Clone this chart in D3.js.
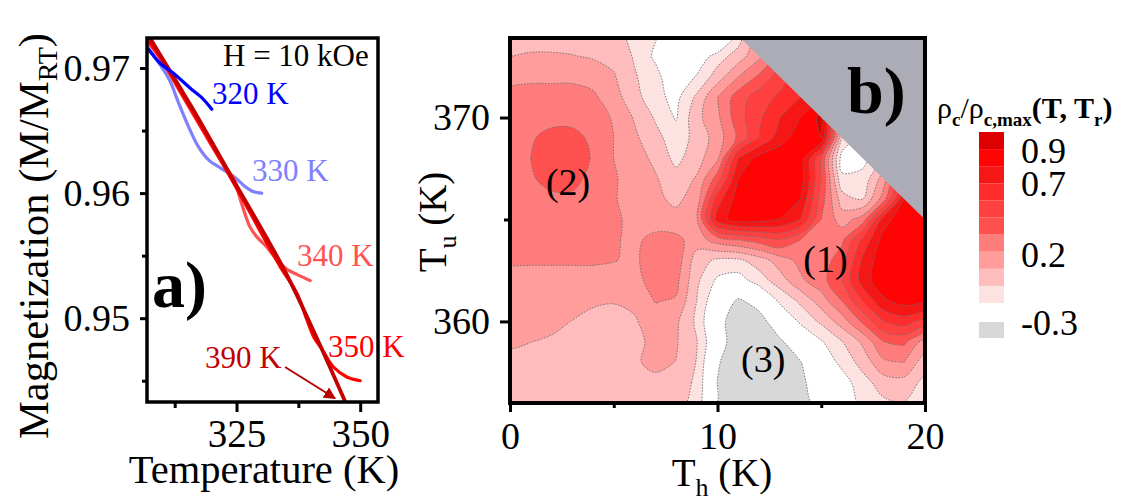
<!DOCTYPE html>
<html>
<head>
<meta charset="utf-8">
<script src="https://cdn.jsdelivr.net/npm/d3@7"></script>
</head>
<body style="margin:0; background:#fff">
<div id="chart"></div>
<script>
// ---------- panel a: M/M_RT vs temperature ----------
const curveNames = ["330 K", "340 K", "350 K", "390 K", "320 K"];
const curveColors = ["#8080ff", "#ff5252", "#ff0000", "#c40000", "#0000ff"];
const t320 = [306.9, 309.5, 312.2, 315.6, 318.3, 320.0];
const m320 = [0.9717, 0.9704, 0.9696, 0.9684, 0.9675, 0.9667];
const t330 = [306.9, 309.5, 311.5, 313.2, 315.2, 317.3, 319.5, 321.8, 324.5, 326.8, 328.5, 330.1];
const m330 = [0.9716, 0.9703, 0.9690, 0.9673, 0.9654, 0.9637, 0.9626, 0.9620, 0.9613, 0.9605, 0.9601, 0.9600];
const t340 = [306.9, 310, 314, 318, 322.3, 324.4, 325.0, 326.4, 327.7, 329.1, 331.1, 333.1, 335.2, 337.2, 339.9];
const m340 = [0.9722, 0.9705, 0.9678, 0.9651, 0.9623, 0.9612, 0.9605, 0.9587, 0.9573, 0.9565, 0.9557, 0.9547, 0.9539, 0.9535, 0.9530];
const t350 = [306.9, 310, 314, 318, 322, 326, 330, 334, 337.2, 339.2, 340.6, 342.3, 344.6, 347.3, 350];
const m350 = [0.9723, 0.9706, 0.9679, 0.9652, 0.9625, 0.9597, 0.9568, 0.9540, 0.9520, 0.9499, 0.9485, 0.9475, 0.9461, 0.9453, 0.9450];
const t390 = [306.9, 307.5, 315.6, 323.7, 334.6, 340.9, 347.0];
const m390 = [0.9728, 0.9724, 0.9671, 0.9615, 0.9539, 0.9487, 0.9433];
const curveT = [t330, t340, t350, t390, t320];
const curveM = [m330, m340, m350, m390, m320];
const arrow390 = [[334.8, 0.9461], [344.9, 0.9436]];

const xTicksA = [325, 350], xMinorA = [312.5, 337.5];
const yTicksA = [0.95, 0.96, 0.97], yMinorA = [0.945, 0.955, 0.965];

// ---------- panel b: rho_c / rho_c,max over (T_h, T_u) ----------
const TH = d3.range(0, 21);          // T_h grid, K
const TU = d3.range(374, 355, -1);   // T_u grid, K (top row first)
const rhoRows = [
  [0.16,0.16,0.16,0.15,0.15,0.13,0.07,0.01,-0.1,-0.15,-0.22,0.04,0.25,0.45,0.55,0.6,0.5,0.4,0.35,0.35,0.35],
  [0.2,0.21,0.21,0.205,0.19,0.17,0.09,-0.02,-0.1,-0.08,0.05,0.15,0.28,0.45,0.55,0.6,0.5,0.4,0.35,0.35,0.35],
  [0.27,0.28,0.28,0.28,0.26,0.21,0.11,0.04,-0.1,0.01,0.15,0.3,0.42,0.55,0.65,0.7,0.6,0.45,0.4,0.35,0.35],
  [0.33,0.34,0.34,0.34,0.32,0.24,0.14,0.03,-0.03,0.12,0.3,0.45,0.55,0.62,0.7,0.8,0.7,0.5,0.4,0.35,0.35],
  [0.33,0.35,0.37,0.37,0.35,0.29,0.19,0.09,-0.01,0.17,0.28,0.46,0.58,0.7,0.8,0.93,0.3,0.1,0.1,0.3,0.4],
  [0.37,0.39,0.43,0.43,0.38,0.3,0.22,0.13,0.05,0.13,0.25,0.42,0.6,0.75,0.86,0.9,0.1,-0.05,0.05,0.3,0.5],
  [0.38,0.4,0.46,0.46,0.39,0.3,0.24,0.18,0.07,0.16,0.28,0.7,0.84,0.88,0.87,0.5,-0.05,-0.03,0.1,0.4,0.6],
  [0.37,0.39,0.43,0.43,0.37,0.31,0.26,0.21,0.14,0.21,0.45,0.8,0.86,0.88,0.85,0.5,0.02,0.03,0.25,0.6,0.8],
  [0.35,0.36,0.38,0.38,0.36,0.31,0.25,0.22,0.18,0.24,0.65,0.85,0.87,0.86,0.8,0.45,0.15,0.1,0.35,0.8,0.89],
  [0.34,0.35,0.36,0.36,0.35,0.32,0.27,0.25,0.23,0.29,0.75,0.85,0.84,0.8,0.7,0.4,0.25,0.35,0.75,0.88,0.89],
  [0.33,0.33,0.34,0.34,0.33,0.31,0.28,0.33,0.33,0.25,0.35,0.4,0.45,0.5,0.4,0.36,0.38,0.62,0.84,0.89,0.89],
  [0.31,0.31,0.31,0.31,0.31,0.305,0.28,0.36,0.36,0.15,0.08,0.08,0.15,0.25,0.33,0.35,0.45,0.72,0.87,0.89,0.89],
  [0.27,0.27,0.27,0.27,0.27,0.25,0.27,0.34,0.33,0.12,-0.02,-0.05,0.05,0.15,0.28,0.36,0.5,0.75,0.87,0.89,0.88],
  [0.25,0.25,0.24,0.23,0.21,0.205,0.22,0.305,0.29,0.1,-0.1,-0.22,-0.15,0.02,0.12,0.25,0.4,0.6,0.78,0.84,0.82],
  [0.23,0.23,0.22,0.198,0.18,0.17,0.19,0.25,0.22,0.08,-0.15,-0.28,-0.25,-0.12,0.02,0.12,0.25,0.42,0.6,0.65,0.55],
  [0.21,0.201,0.19,0.18,0.17,0.16,0.17,0.23,0.21,0.105,-0.12,-0.3,-0.32,-0.22,-0.12,-0.01,0.095,0.22,0.4,0.42,0.25],
  [0.18,0.17,0.17,0.17,0.16,0.16,0.19,0.22,0.198,0.095,-0.18,-0.33,-0.35,-0.3,-0.205,-0.08,0.03,0.14,0.28,0.3,0.14],
  [0.16,0.16,0.16,0.16,0.15,0.15,0.17,0.18,0.16,0.08,-0.205,-0.35,-0.37,-0.33,-0.23,-0.12,-0.05,0.06,0.15,0.16,0.07],
  [0.15,0.15,0.15,0.15,0.15,0.15,0.16,0.16,0.14,0.06,-0.21,-0.35,-0.38,-0.35,-0.25,-0.15,-0.05,0.02,0.08,0.095,0.05]
];
const levels = [-1, -0.2, 0, 0.1, 0.2, 0.3, 0.4, 0.5, 0.6, 0.7, 0.8, 0.9];
const levelColors = ["#d8d8d8", "#ffffff", "#fde2e2", "#ffbcbc", "#ff9c9c", "#ff7c7c",
                     "#ff5050", "#ff4040", "#ff2c2c", "#f51616", "#ff0404", "#dc0000"];
const maskSum = 385;  // T_h + T_u above this is not measured
const xTicksB = [0, 10, 20], xMinorB = [5, 15];
const yTicksB = [360, 370], yMinorB = [365];
const cbLabels = ["0.9", "0.7", "0.2", "-0.3"];
const cbLabelY = [163, 196, 267, 335];

const svg = d3.select("#chart").append("svg")
  .attr("width", 1132).attr("height", 502)
  .style("background", "#fff");

// small helper for the thick black ticks
function drawAxis(g, axis, fontSize) {
  g.call(axis);
  g.select(".domain").remove();
  g.selectAll(".tick line").attr("stroke", "#000").attr("stroke-width", 3);
  g.selectAll(".tick text").attr("font-size", fontSize).attr("fill", "#000");
}

// ===== panel a =====
const xA = d3.scaleLinear().domain([306.9, 353.6]).range([147, 378]);
const yA = d3.scaleLinear().domain([0.9433, 0.9724]).range([402, 38]);

svg.append("clipPath").attr("id", "clipA")
  .append("rect").attr("x", 147).attr("y", 38).attr("width", 231).attr("height", 364);

const lineA = d3.line()
  .x(d => xA(d[0]))
  .y(d => yA(d[1]))
  .curve(d3.curveCatmullRom);

const curves = svg.append("g").attr("clip-path", "url(#clipA)");
curveT.forEach(function(ts, i) {
  curves.append("path")
    .datum(ts.map((t, j) => [t, curveM[i][j]]))
    .attr("fill", "none")
    .attr("stroke", curveColors[i])
    .attr("stroke-width", curveNames[i] === "390 K" ? 3.8 : 3.2)
    .attr("stroke-linecap", "round")
    .attr("d", lineA);
});

// arrow to the 390 K line
svg.append("defs").append("marker")
  .attr("id", "arr").attr("viewBox", "0 0 10 10")
  .attr("refX", 9).attr("refY", 5)
  .attr("markerWidth", 6).attr("markerHeight", 6)
  .attr("orient", "auto")
  .append("path").attr("d", "M0,0 L10,5 L0,10 z").attr("fill", "#b80000");
svg.append("line")
  .attr("x1", xA(arrow390[0][0])).attr("y1", yA(arrow390[0][1]))
  .attr("x2", xA(arrow390[1][0])).attr("y2", yA(arrow390[1][1]))
  .attr("stroke", "#b80000").attr("stroke-width", 2)
  .attr("marker-end", "url(#arr)");

drawAxis(svg.append("g").attr("transform", "translate(0,402)"),
  d3.axisBottom(xA).tickValues(xTicksA).tickSize(10).tickPadding(7), 39);
drawAxis(svg.append("g").attr("transform", "translate(0,402)"),
  d3.axisBottom(xA).tickValues(xMinorA).tickSize(6).tickFormat(""), 39);
drawAxis(svg.append("g").attr("transform", "translate(147,0)"),
  d3.axisLeft(yA).tickValues(yTicksA).tickSize(7).tickPadding(10).tickFormat(d3.format(".2f")), 38);
drawAxis(svg.append("g").attr("transform", "translate(147,0)"),
  d3.axisLeft(yA).tickValues(yMinorA).tickSize(5).tickFormat(""), 38);

svg.append("rect")
  .attr("x", 147).attr("y", 38).attr("width", 231).attr("height", 364)
  .attr("fill", "none").attr("stroke", "#000").attr("stroke-width", 3.5);

// curve labels
const curveLabelPos = {"320 K": [212, 104], "330 K": [252, 181], "340 K": [297, 266], "350 K": [328, 357], "390 K": [205, 368]};
curveNames.forEach(function(n, i) {
  svg.append("text")
    .attr("x", curveLabelPos[n][0]).attr("y", curveLabelPos[n][1])
    .attr("font-size", 31)
    .style("fill", curveColors[i])
    .text(n);
});

svg.append("text").attr("x", 223).attr("y", 66).attr("font-size", 31).text("H = 10 kOe");
svg.append("text").attr("x", 152).attr("y", 307).attr("font-size", 66).attr("font-weight", "bold").text("a)");

svg.append("text")
  .attr("x", 264).attr("y", 483).attr("font-size", 40.5).attr("text-anchor", "middle")
  .text("Temperature (K)");

const yTitleA = svg.append("text")
  .attr("transform", "translate(48,236) rotate(-90)")
  .attr("font-size", 42.5).attr("text-anchor", "middle");
yTitleA.append("tspan").text("Magnetization (M/M");
yTitleA.append("tspan").attr("font-size", 28).attr("dy", 9).text("RT");
yTitleA.append("tspan").attr("dy", -9).text(")");

// ===== panel b =====
const xB = d3.scaleLinear().domain([0, 20]).range([510, 925]);
const yB = d3.scaleLinear().domain([356, 373.9]).range([403, 38]);

svg.append("clipPath").attr("id", "clipB")
  .append("rect").attr("x", 510).attr("y", 38).attr("width", 415).attr("height", 365);

const values = rhoRows.flat();
const contours = d3.contours()
  .size([TH.length, TU.length])
  .thresholds(levels)(values);

// grid units -> pixels (samples sit at cell centres), rings smoothed
const ringLine = d3.line().curve(d3.curveCatmullRomClosed.alpha(0.5));
function bandPath(c) {
  return c.coordinates.map(poly => poly.map(function(ring) {
    const pts = ring.slice();
    const a = pts[0], b = pts[pts.length - 1];
    if (a[0] === b[0] && a[1] === b[1]) pts.pop();
    return ringLine(pts.map(p => [xB(TH[0] + p[0] - 0.5), yB(TU[0] - p[1] + 0.5)]));
  }).join("")).join("");
}

const map = svg.append("g").attr("clip-path", "url(#clipB)");
map.selectAll("path.band")
  .data(contours)
  .join("path")
  .attr("class", "band")
  .attr("d", bandPath)
  .attr("fill-rule", "evenodd")
  .attr("fill", (d, i) => levelColors[i]);

map.selectAll("path.iso")
  .data(contours.slice(1))
  .join("path")
  .attr("class", "iso")
  .attr("d", bandPath)
  .attr("fill", "none")
  .attr("stroke", "#6e6e6e")
  .attr("stroke-width", 0.9)
  .attr("stroke-dasharray", "1.5,1.5");

// unmeasured corner (T_h + T_u > maskSum)
const yTop = yB.domain()[1], xRight = xB.domain()[1];
map.append("path")
  .datum([[maskSum - yTop, yTop], [xRight, maskSum - xRight], [xRight, yTop]])
  .attr("d", d3.line().x(d => xB(d[0])).y(d => yB(d[1])))
  .attr("fill", "#acacb6");

drawAxis(svg.append("g").attr("transform", "translate(0,403)"),
  d3.axisBottom(xB).tickValues(xTicksB).tickSize(9).tickPadding(10), 38);
drawAxis(svg.append("g").attr("transform", "translate(0,403)"),
  d3.axisBottom(xB).tickValues(xMinorB).tickSize(5).tickFormat(""), 38);
drawAxis(svg.append("g").attr("transform", "translate(510,0)"),
  d3.axisLeft(yB).tickValues(yTicksB).tickSize(10).tickPadding(10), 38);
drawAxis(svg.append("g").attr("transform", "translate(510,0)"),
  d3.axisLeft(yB).tickValues(yMinorB).tickSize(6).tickFormat(""), 38);

svg.append("rect")
  .attr("x", 510).attr("y", 38).attr("width", 415).attr("height", 365)
  .attr("fill", "none").attr("stroke", "#000").attr("stroke-width", 4);

svg.append("text").attr("x", 847).attr("y", 113).attr("font-size", 66).attr("font-weight", "bold").text("b)");

const regionLabels = [["(2)", 2.8, 366.2], ["(1)", 15.2, 362.4], ["(3)", 12.2, 357.5]];
regionLabels.forEach(function(r) {
  svg.append("text")
    .attr("x", xB(r[1])).attr("y", yB(r[2]))
    .attr("font-size", 38).attr("text-anchor", "middle")
    .text(r[0]);
});

const xTitleB = svg.append("text")
  .attr("x", 722).attr("y", 486).attr("font-size", 39).attr("text-anchor", "middle");
xTitleB.append("tspan").text("T");
xTitleB.append("tspan").attr("font-size", 26).attr("dy", 10).text("h");
xTitleB.append("tspan").attr("dy", -10).text(" (K)");

const yTitleB = svg.append("text")
  .attr("transform", "translate(446,222) rotate(-90)")
  .attr("font-size", 39).attr("text-anchor", "middle");
yTitleB.append("tspan").text("T");
yTitleB.append("tspan").attr("font-size", 26).attr("dy", 10).text("u");
yTitleB.append("tspan").attr("dy", -10).text(" (K)");

// ===== colour bar =====
const cbY = d3.scaleLinear().domain([0, 1]).range([303, 132]);
const cb = svg.append("g");
levels.forEach(function(lv, i) {
  if (lv < 0) return;
  const top = i + 1 < levels.length ? levels[i + 1] : 1;
  cb.append("rect")
    .attr("x", 979).attr("width", 25)
    .attr("y", cbY(top)).attr("height", cbY(lv) - cbY(top))
    .attr("fill", levelColors[i]);
});
cb.append("rect").attr("x", 979).attr("width", 25).attr("y", 322).attr("height", 16).attr("fill", levelColors[0]);

cbLabels.forEach(function(l, i) {
  cb.append("text").attr("x", 1021).attr("y", cbLabelY[i]).attr("font-size", 36).text(l);
});

const cbTitle = svg.append("text").attr("x", 937).attr("y", 118).attr("font-size", 30).attr("font-weight", "bold");
cbTitle.append("tspan").attr("font-weight", "normal").text("ρ");
cbTitle.append("tspan").attr("font-size", 19).attr("dy", 8).text("c");
cbTitle.append("tspan").attr("dy", -8).attr("font-weight", "normal").text("/ρ");
cbTitle.append("tspan").attr("font-size", 19).attr("dy", 8).text("c,max");
cbTitle.append("tspan").attr("dy", -8).text("(T, T");
cbTitle.append("tspan").attr("font-size", 19).attr("dy", 8).text("r");
cbTitle.append("tspan").attr("dy", -8).text(")");

// Times-like face for every text, axis labels included
svg.selectAll("text").style("font-family", "'Liberation Serif'");
</script>
</body>
</html>
